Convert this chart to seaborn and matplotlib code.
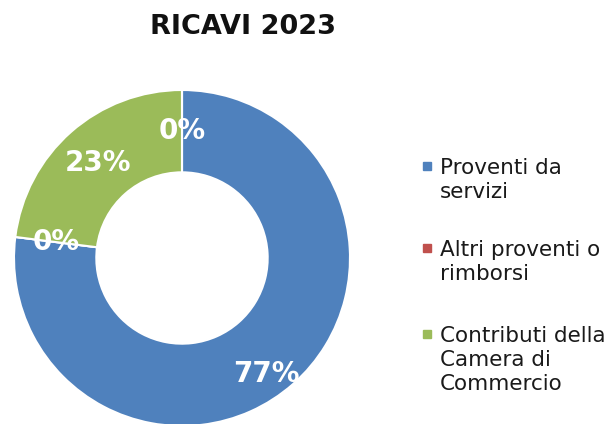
import seaborn as sns
import matplotlib.pyplot as plt
from matplotlib.patches import Rectangle

# Data (last slice is an unlabelled 0% item)
categories = ['Proventi da\nservizi', 'Altri proventi o\nrimborsi',
              'Contributi della\nCamera di\nCommercio', '']
values = [77, 0, 23, 0]
colors = ['#4F81BD', '#C0504D', '#9BBB59', '#8064A2']
title = 'RICAVI 2023'


def main():
    sns.set_theme(style='white')
    plt.rcParams['font.family'] = ['DejaVu Sans']
    palette = sns.color_palette(colors)

    fig = plt.figure(figsize=(6.16, 4.24), dpi=100)
    W, H = 616, 424
    cx, cy, r = 182, 424 - 258, 168
    ax = fig.add_axes([(cx - r) / W, (cy - r) / H, 2 * r / W, 2 * r / H])

    wedges, texts, autotexts = ax.pie(
        values, colors=palette, startangle=90,
        counterclock=False, autopct='%.0f%%', pctdistance=0.755,
        wedgeprops=dict(width=0.49, edgecolor='white', linewidth=1.5),
        textprops=dict(color='white', fontsize=20, fontweight='bold'))
    # the big label sits a bit lower in the original
    x0, y0 = autotexts[0].get_position()
    autotexts[0].set_position((x0, y0 - 0.125))
    ax.set_xlim(-1, 1)
    ax.set_ylim(-1, 1)
    ax.set_aspect('equal')
    ax.axis('off')

    fig.text(243 / W, 1 - 34 / H, title, ha='center', va='baseline',
             fontsize=19.5, fontweight='bold', color='#111111')

    # legend, marker aligned with the first line of each label
    baselines = [174, 256, 342]
    line_gap = 24
    for lab, col, yb in zip(categories[:3], palette, baselines):
        for i, line in enumerate(lab.split('\n')):
            fig.text(440 / W, 1 - (yb + i * line_gap) / H, line, ha='left',
                     va='baseline', fontsize=15.5, color='#1a1a1a')
        fig.patches.append(Rectangle((423 / W, 1 - (yb - 4) / H), 8 / W, 8 / H,
                                     transform=fig.transFigure, color=col))

    fig.savefig('out.png', dpi=100)


if __name__ == '__main__':
    main()
